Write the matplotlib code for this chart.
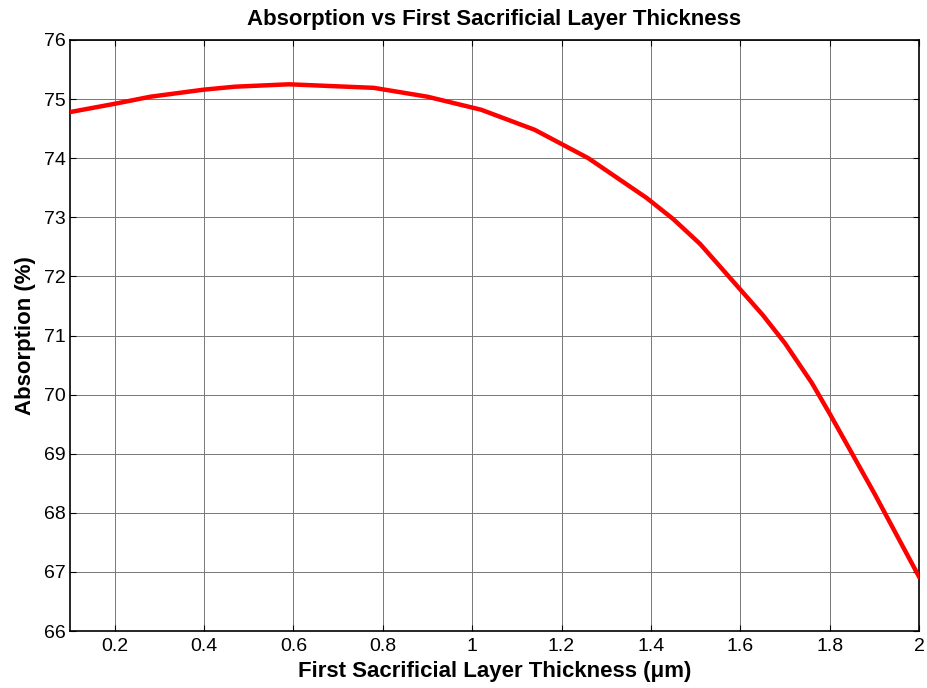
import matplotlib
matplotlib.use("Agg")
import matplotlib.pyplot as plt

# thickness (um) and absorption (%)
thickness = [0.1, 0.2, 0.28, 0.4, 0.47, 0.59, 0.78, 0.9, 1.02, 1.14, 1.26,
             1.39, 1.45, 1.51, 1.58, 1.65, 1.7, 1.76, 1.8, 1.9, 2.0]
absorption = [74.78, 74.92, 75.04, 75.16, 75.21, 75.25, 75.19, 75.04, 74.82,
              74.48, 74.0, 73.33, 72.97, 72.55, 71.95, 71.35, 70.87, 70.2,
              69.68, 68.33, 66.92]

xticks = [0.2, 0.4, 0.6, 0.8, 1, 1.2, 1.4, 1.6, 1.8, 2]
xticklabels = ["0.2", "0.4", "0.6", "0.8", "1", "1.2", "1.4", "1.6", "1.8", "2"]
yticks = list(range(66, 77))

plt.rcParams["font.family"] = ["Liberation Sans", "DejaVu Sans"]

fig = plt.figure(figsize=(9.28, 6.88), dpi=100)
ax = fig.add_axes([0.0754, 0.0828, 0.9149, 0.8591])

ax.plot(thickness, absorption, color="red", linewidth=3.2, zorder=3)

ax.set_xlim(0.1, 2)
ax.set_ylim(66, 76)
ax.set_xticks(xticks)
ax.set_xticklabels(xticklabels)
ax.set_yticks(yticks)
ax.tick_params(direction="in", top=True, right=True, length=4, labelsize=14,
               width=0.8)
ax.tick_params(axis="x", pad=5)
ax.tick_params(axis="y", pad=3)
ax.grid(True, color="#777777", linewidth=0.7)
for s in ax.spines.values():
    s.set_linewidth(1.2)

ax.set_title("Absorption vs First Sacrificial Layer Thickness",
             fontsize=16, fontweight="bold", pad=11)
ax.set_xlabel("First Sacrificial Layer Thickness (\u03bcm)",
              fontsize=16, fontweight="bold", labelpad=4)
ax.set_ylabel("Absorption (%)", fontsize=16, fontweight="bold", labelpad=6)

fig.savefig("out.png", dpi=100)
